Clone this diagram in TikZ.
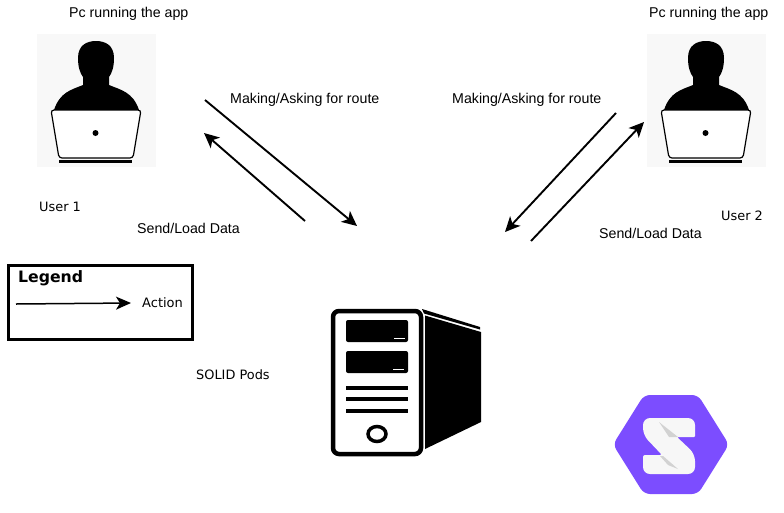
\documentclass[tikz,border=0pt]{standalone}
\usepackage{fontspec}
\setmainfont{Liberation Sans}
\newfontfamily\legendfont{DejaVu Sans}
\usetikzlibrary{arrows.meta,positioning}
\definecolor{solidpurple}{HTML}{7C4DFF}
\definecolor{iconbg}{HTML}{F8F8F8}
\definecolor{logowhite}{HTML}{F7F7F7}
\tikzset{
  label/.style={anchor=west, inner sep=0pt, font=\fontsize{14.2}{17}\selectfont},
  dvlabel/.style={anchor=west, inner sep=0pt, font=\legendfont\fontsize{12.9}{15}\selectfont},
  action/.style={-{Stealth[length=15pt,width=14pt,inset=4pt]}, line width=1.9pt},
  userpic/.pic={
    \fill[iconbg] (0,0) rectangle (119,133);
    \fill (41,24) .. controls (41,11) and (50,7) .. (59,7) .. controls (68,7) and (77,11) .. (77,24)
      .. controls (77,33) and (75,39) .. (72,43) -- (72,51) .. controls (84,56) and (96,58) .. (102,76)
      -- (17,76) .. controls (23,58) and (34,56) .. (46,51) -- (46,43) .. controls (43,39) and (41,33) .. (41,24) -- cycle;
    \draw[line width=1.2pt, fill=white, rounded corners=3pt] (14,76) -- (104,76) -- (96,124) -- (22,124) -- cycle;
    \fill (58.5,99) circle (3);
    \fill (22,125.5) rectangle (95,128.5);
  }
}
\begin{document}
\begin{tikzpicture}[x=1pt,y=-1pt]
  \useasboundingbox (0,0) rectangle (784,512);

  \pic at (37,34) {userpic};
  \pic at (647,34) {userpic};

  \node[label] (pc1) at (69,14) {Pc running the app};
  \node[label] (pc2) at (649,14) {Pc running the app};
  \node[dvlabel] (user1) at (39,207) {User 1};
  \node[dvlabel] (user2) at (721,216) {User 2};
  \node[label] (ask1) at (230,100) {Making/Asking for route};
  \node[label] (ask2) at (452,100) {Making/Asking for route};
  \node[label] (load1) at (137,228.5) {Send/Load Data};
  \node[label] (load2) at (599,233.5) {Send/Load Data};
  \node[dvlabel] (pods) at (196,375) {SOLID Pods};

  % arrows, user 1 side
  \coordinate (a0) at (205,100);
  \coordinate (a1) at (357,226);
  \coordinate (b0) at (305,221);
  \coordinate (b1) at (204,133);
  \draw[action] (a0) -- (a1);
  \draw[action] (b0) -- (b1);

  % arrows, user 2 side
  \coordinate (c0) at (616,113);
  \coordinate (c1) at (505,232);
  \coordinate (d0) at (531,241);
  \coordinate (d1) at (644,122);
  \draw[action] (c0) -- (c1);
  \draw[action] (d0) -- (d1);

  % legend
  \draw[line width=3pt] (8,265) rectangle (192,339);
  \node[anchor=west, inner sep=0pt, font=\legendfont\bfseries\fontsize{15.7}{18}\selectfont] (legend) at (18,278) {Legend};
  \node[anchor=west, inner sep=0pt, font=\legendfont\fontsize{13}{15}\selectfont] (actionlabel) at (142,303) {Action};
  \coordinate (l0) at (16,304);
  \coordinate (l1) at (131,303);
  \draw[-{Stealth[length=15pt,width=13pt,inset=4pt]}, line width=1.5pt] (l0) -- (l1);

  % server
  \draw[line width=4.5pt, fill=white, rounded corners=6pt] (333,311) rectangle (421,454);
  \fill[rounded corners=2pt] (346,320) rectangle (408,342);
  \fill[rounded corners=2pt] (346,351) rectangle (408,373);
  \draw[white, line width=1pt] (394,338.5) -- (405,338.5) (393,369.5) -- (404,369.5);
  \fill (346,386) rectangle (408,390);
  \fill (346,397) rectangle (408,401);
  \fill (346,409) rectangle (408,413);
  \draw[line width=3.5pt] (377,434) ellipse (9 and 7.5);
  \fill (425,315.5) -- (481,332) -- (481,422) -- (425,449) -- cycle;
  \fill (422,309) -- (480,327) -- (480,329.5) -- (424,313.5) -- cycle;

  % solid logo
  \fill[solidpurple, rounded corners=6pt] (613,444.5) -- (644,395) -- (698,395) -- (729,444.5) -- (698,494) -- (644,494) -- cycle;
  \fill[logowhite, rounded corners=7pt] (677,437) -- (695,454) -- (695,474) -- (643,474) [rounded corners=2pt] -- (643,455) -- (662,455) [rounded corners=7pt] -- (643,435) -- (643,418) -- (695,418) [rounded corners=1pt] -- (695,437) -- cycle;
  \fill[gray!35] (659,422) -- (678,437) -- (669,437) -- cycle;
  \fill[gray!35] (663,456) -- (678,469) -- (668,465) -- (660,456) -- cycle;
\end{tikzpicture}
\end{document}
